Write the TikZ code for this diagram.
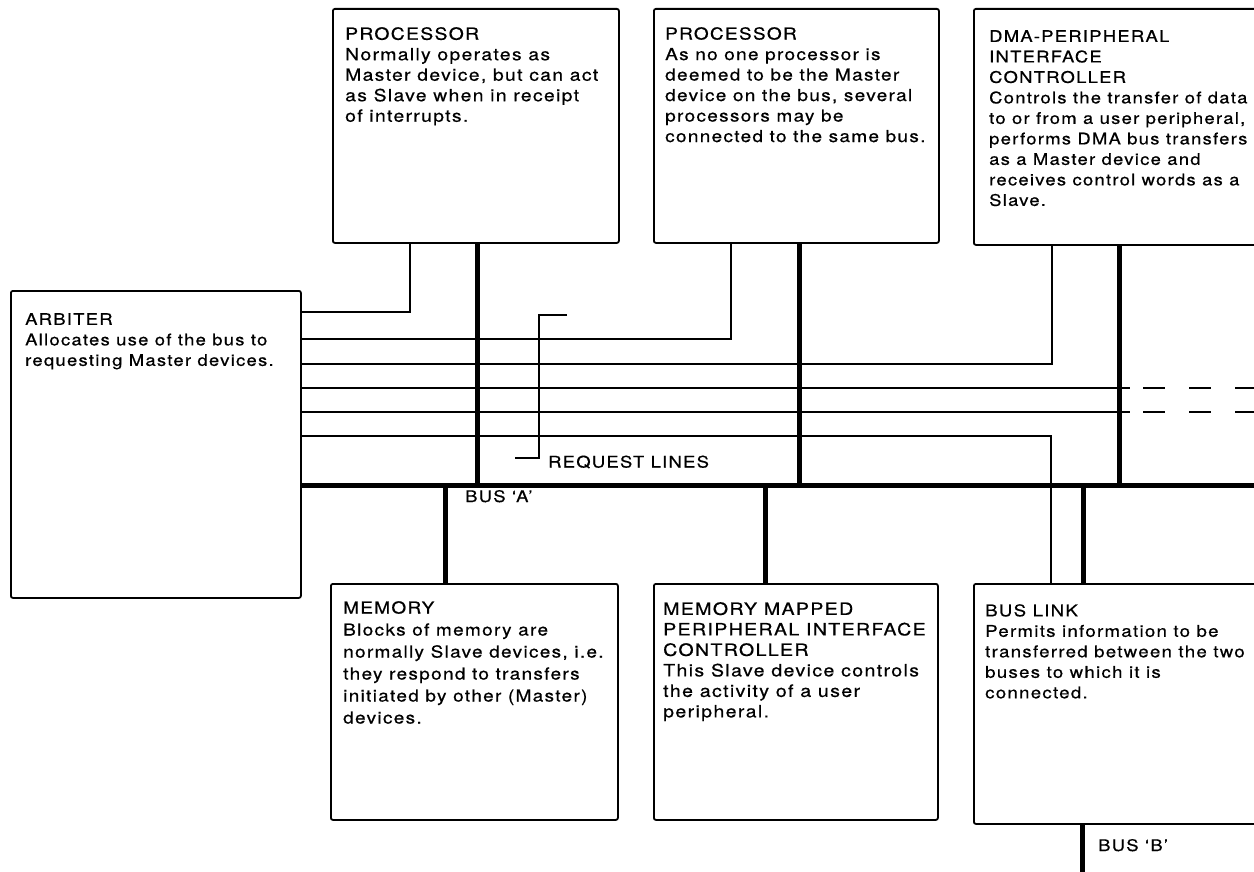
\documentclass[tikz,border=0pt]{standalone}
\usepackage{fontspec}
\setmainfont{TeX Gyre Heros}[FakeStretch=1.15, LetterSpace=8, FakeBold=0.6]
\usepackage{tikz}
\usetikzlibrary{positioning}

\tikzset{
  unit/.style={draw, line width=1.8pt, rounded corners=2pt, anchor=north west, inner sep=0pt},
  txt/.style={inner sep=0pt, align=left, font=\fontsize{#1}{20.5}\selectfont},
  txt/.default=16,
  req/.style={line width=1.8pt},
  bus/.style={line width=5pt},
}

\begin{document}
\begin{tikzpicture}[x=1pt, y=-1pt]
\clip (0,0) rectangle (1254,872);
\fill[white] (0,0) rectangle (1254,872);

% Boxes
\node[unit, minimum width=290pt, minimum height=307pt] (arb) at (10,290) {};
\node[unit, minimum width=286pt, minimum height=234pt] (p1) at (332,8) {};
\node[unit, minimum width=285pt, minimum height=234pt] (p2) at (653,8) {};
\node[unit, minimum width=300pt, minimum height=236pt] (dma) at (973,8) {};
\node[unit, minimum width=287pt, minimum height=236pt] (mem) at (330,583) {};
\node[unit, minimum width=284pt, minimum height=236pt] (mmpic) at (653,583) {};
\node[unit, minimum width=300pt, minimum height=240pt] (link) at (973,583) {};

% Texts
\node[txt, below right=23pt and 15pt of arb.north west] (arbtxt)
  {ARBITER\\Allocates use of the bus to\\requesting Master devices.};
\node[txt=16.8, below right=19pt and 13pt of p1.north west] (p1txt)
  {PROCESSOR\\Normally operates as\\Master device, but can act\\as Slave when in receipt\\of interrupts.};
\node[txt=16.5, below right=19pt and 12pt of p2.north west] (p2txt)
  {PROCESSOR\\As no one processor is\\deemed to be the Master\\device on the bus, several\\processors may be\\connected to the same bus.};
\node[txt, below right=22pt and 16pt of dma.north west] (dmatxt)
  {DMA-PERIPHERAL\\INTERFACE\\CONTROLLER\\Controls the transfer of data\\to or from a user peripheral,\\performs DMA bus transfers\\as a Master device and\\receives control words as a\\Slave.};
\node[txt, font=\fontsize{16.5}{22}\selectfont, below right=18pt and 13pt of mem.north west] (memtxt)
  {MEMORY\\Blocks of memory are\\normally Slave devices, i.e.\\they respond to transfers\\initiated by other (Master)\\devices.};
\node[txt=17, below right=19pt and 10pt of mmpic.north west] (mmpictxt)
  {MEMORY MAPPED\\PERIPHERAL INTERFACE\\CONTROLLER\\This Slave device controls\\the activity of a user\\peripheral.};
\node[txt=16.2, below right=21pt and 12pt of link.north west] (linktxt)
  {BUS LINK\\Permits information to be\\transferred between the two\\buses to which it is\\connected.};

% Request lines
\draw[req] (arb.east |- 0,312) -| (p1.south -| 410,0);
\draw[req] (arb.east |- 0,339) -| (p2.south -| 731,0);
\draw[req] (arb.east |- 0,364) -| (dma.south -| 1052,0);
\coordinate (ra) at (1130,388);
\coordinate (rb) at (1130,412);
\draw[req] (arb.east |- 0,388) -- (ra);
\draw[req] (arb.east |- 0,412) -- (rb);
\draw[req, dash pattern=on 22pt off 24pt] (1143,388) -- (1254,388);
\draw[req, dash pattern=on 22pt off 24pt] (1143,412) -- (1254,412);
\draw[req] (arb.east |- 0,436) -| (link.north -| 1051,0);

% Bus A
\coordinate (busend) at (1254,485);
\draw[bus] (arb.east |- busend) -- (busend);
\draw[bus] (p1.south -| 477,0) -- (477,485);
\draw[bus] (p2.south -| 799,0) -- (799,485);
\draw[bus] (dma.south -| 1119,0) -- (1119,485);
\draw[bus] (445,485) -- (mem.north -| 445,0);
\draw[bus] (765,485) -- (mmpic.north -| 765,0);
\draw[bus] (1083,485) -- (link.north -| 1083,0);
\node[txt, anchor=base west] (busa) at (465,502) {BUS `A'};

% Bus B
\coordinate (bend) at (1082,872);
\draw[bus] (link.south -| bend) -- (bend);
\node[txt, anchor=base west] (busb) at (1098,851) {BUS `B'};

% Bracket
\coordinate (bt) at (567,315);
\coordinate (bb) at (515,458);
\draw[req] (bt) -| (539,458) -- (bb);
\node[txt, anchor=west] (reqtxt) at (548,462) {REQUEST LINES};
\end{tikzpicture}
\end{document}
